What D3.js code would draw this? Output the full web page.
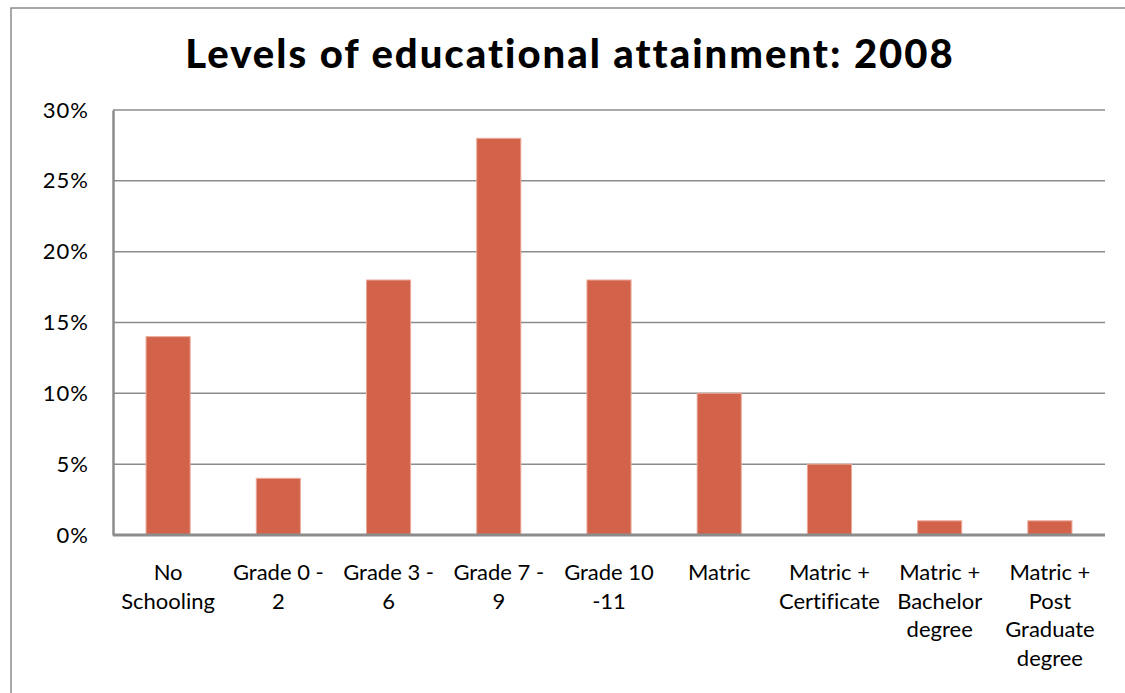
<!DOCTYPE html>
<html>
<head>
<meta charset="utf-8">
<script src="https://cdn.jsdelivr.net/npm/d3@7"></script>
<style>
  html, body { margin: 0; padding: 0; background: #fff; }
  svg { display: block; }
  text { font-family: "Lato", "DejaVu Sans", sans-serif; fill: #000; font-variant-ligatures: none; }
</style>
</head>
<body>
<svg id="chart" width="1125" height="693"></svg>
<script>
// Share of population by highest level of education, 2008
const categories = [
  ["No", "Schooling"],
  ["Grade 0 -", "2"],
  ["Grade 3 -", "6"],
  ["Grade 7 -", "9"],
  ["Grade 10", "-11"],
  ["Matric"],
  ["Matric +", "Certificate"],
  ["Matric +", "Bachelor", "degree"],
  ["Matric +", "Post", "Graduate", "degree"]
];
const values = [14, 4, 18, 28, 18, 10, 5, 1, 1];
const yTicks = [0, 5, 10, 15, 20, 25, 30];
const titleText = "Levels of educational attainment: 2008";

const svg = d3.select("#chart");
const W = 1125, H = 693;
const plot = { left: 113, right: 1105, top: 110, bottom: 535 };

// Outer chart frame (runs off the right and bottom edges)
svg.append("rect")
  .attr("x", 11).attr("y", 8)
  .attr("width", W + 20).attr("height", H + 20)
  .attr("fill", "#fff")
  .attr("stroke", "#8c8c8c").attr("stroke-width", 1.5);

const x = d3.scaleBand()
  .domain(d3.range(categories.length))
  .range([plot.left, plot.right])
  .paddingInner(0.6).paddingOuter(0.3);

const y = d3.scaleLinear().domain([0, 30]).range([plot.bottom, plot.top]);

// Horizontal gridlines
svg.append("g")
  .selectAll("line")
  .data(yTicks)
  .join("line")
  .attr("x1", plot.left).attr("x2", plot.right)
  .attr("y1", d => y(d)).attr("y2", d => y(d))
  .attr("stroke", "#8c8c8c").attr("stroke-width", 1.5);

// Y axis labels
const yAxis = d3.axisLeft(y).tickValues(yTicks).tickSize(0).tickPadding(24)
  .tickFormat(d => d + "%");
svg.append("g")
  .attr("transform", `translate(${plot.left},0)`)
  .call(yAxis)
  .call(g => g.select(".domain").attr("stroke", "#8c8c8c").attr("stroke-width", 2.5))
  .call(g => g.selectAll("text")
    .style("font-size", "22px")
    .style("font-family", "Lato, 'DejaVu Sans', sans-serif")
    .style("letter-spacing", "1px")
    .attr("fill", "#000"));

// Bars
svg.append("g")
  .selectAll("rect")
  .data(values)
  .join("rect")
  .attr("x", (d, i) => x(i))
  .attr("width", x.bandwidth())
  .attr("y", d => y(d))
  .attr("height", d => y(0) - y(d))
  .attr("fill", "#d2634a")
  .attr("stroke", "#eba898").attr("stroke-width", 1);

// Baseline
svg.append("line")
  .attr("x1", plot.left).attr("x2", plot.right)
  .attr("y1", y(0)).attr("y2", y(0))
  .attr("stroke", "#8c8c8c").attr("stroke-width", 3);

// Category labels (multi-line)
const labels = svg.append("g")
  .selectAll("text")
  .data(categories)
  .join("text")
  .attr("text-anchor", "middle")
  .style("font-size", "22px")
  .attr("transform", (d, i) => `translate(${x(i) + x.bandwidth() / 2},580)`);
labels.selectAll("tspan")
  .data(d => d)
  .join("tspan")
  .attr("x", 0)
  .attr("y", (d, j) => j * 28.5)
  .text(d => d);

// Title
svg.append("text")
  .attr("x", 570).attr("y", 68)
  .attr("text-anchor", "middle")
  .style("font-size", "40px")
  .style("font-weight", "900")
  .style("letter-spacing", "2px")
  .text(titleText);
</script>
</body>
</html>
